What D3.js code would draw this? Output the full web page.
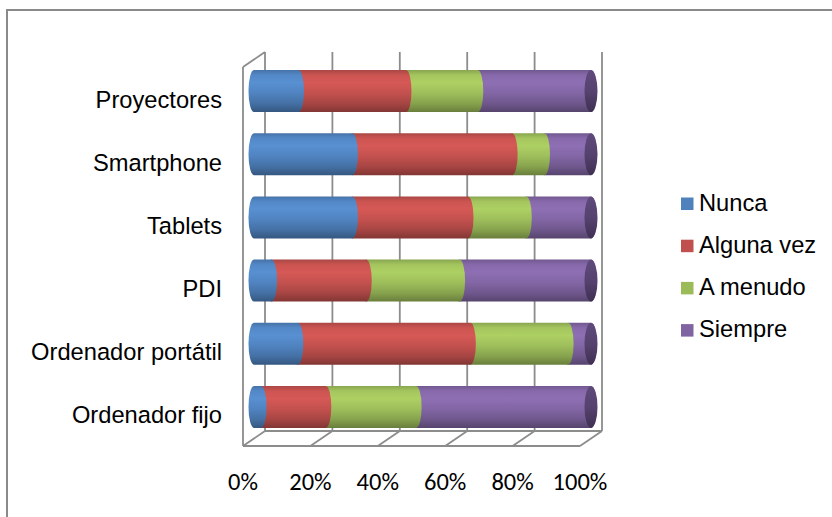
<!DOCTYPE html>
<html>
<head>
<meta charset="utf-8">
<script src="https://cdn.jsdelivr.net/npm/d3@7"></script>
<style>
  body { margin: 0; background: #fff; }
  svg { display: block; }
</style>
</head>
<body>
<script>
var categories = ['Proyectores', 'Smartphone', 'Tablets', 'PDI', 'Ordenador portátil', 'Ordenador fijo'];
var seriesNames = ['Nunca', 'Alguna vez', 'A menudo', 'Siempre'];
var nunca = [13.2, 29.2, 29.2, 5.2, 13.0, 2.1];
var algunaVez = [31.9, 47.4, 34.3, 28.1, 51.2, 19.2];
var aMenudo = [21.3, 9.6, 17.3, 27.7, 29.0, 26.8];
var siempre = [33.6, 13.8, 19.2, 39.0, 6.8, 51.9];
var tickLabels = ['0%', '20%', '40%', '60%', '80%', '100%'];

var colors = ['#4F81BD', '#C0504D', '#9BBB59', '#8064A2'];

var width = 832,
    height = 517;

var svg = d3.select('body').append('svg')
    .attr('width', width)
    .attr('height', height);

// outer chart border (cut by the picture edge)
svg.append('rect')
    .attr('x', 7).attr('y', 10)
    .attr('width', 900).attr('height', 600)
    .attr('fill', 'none')
    .attr('stroke', '#8a8a8a')
    .attr('stroke-width', 2);

// 3d box: front plane, back plane offset by depth
var depthX = 22, depthY = -15;
var xFront = d3.scaleLinear().domain([0, 1]).range([243, 580]);
var xBack = function (v) { return xFront(v) + depthX; };
var xMid = function (v) { return xFront(v) + depthX / 2; };

var yBand = d3.scaleBand().domain(categories).range([67, 446]);
var floorY = 446;

var grid = svg.append('g')
    .attr('stroke', '#8c8c8c')
    .attr('stroke-width', 1.8)
    .attr('fill', 'none');

var ticks = d3.range(0, 1.0001, 0.2);

// back wall gridlines
grid.selectAll('.bg').data(ticks).enter().append('line')
    .attr('x1', xBack).attr('x2', xBack)
    .attr('y1', 67 + depthY).attr('y2', floorY + depthY);

// floor
grid.append('line')
    .attr('x1', xFront(0)).attr('x2', xFront(1))
    .attr('y1', floorY).attr('y2', floorY);
grid.append('line')
    .attr('x1', xBack(0)).attr('x2', xBack(1))
    .attr('y1', floorY + depthY).attr('y2', floorY + depthY);
grid.selectAll('.fl').data(ticks).enter().append('line')
    .attr('x1', xFront).attr('x2', xBack)
    .attr('y1', floorY).attr('y2', floorY + depthY);

// left wall
grid.append('line')
    .attr('x1', xFront(0)).attr('x2', xFront(0))
    .attr('y1', 67).attr('y2', floorY);
grid.append('line')
    .attr('x1', xFront(0)).attr('x2', xBack(0))
    .attr('y1', 67).attr('y2', 67 + depthY);

// gradients
var defs = svg.append('defs');
function addGradient(id, base) {
    var c = d3.color(base);
    var g = defs.append('linearGradient').attr('id', id)
        .attr('x1', 0).attr('y1', 0).attr('x2', 0).attr('y2', 1);
    var stops = [
        [0, c.darker(0.35)],
        [0.12, c.brighter(0.15)],
        [0.3, c.brighter(0.3)],
        [0.55, c.brighter(0.05)],
        [0.8, c.darker(0.4)],
        [1, c.darker(1.1)]
    ];
    stops.forEach(function (s) {
        g.append('stop').attr('offset', s[0]).attr('stop-color', s[1].formatHex());
    });
}
colors.forEach(function (c, i) { addGradient('grad' + i, c); });
var capGrad = defs.append('linearGradient').attr('id', 'capGrad')
    .attr('x1', 0).attr('y1', 0).attr('x2', 0).attr('y2', 1);
capGrad.append('stop').attr('offset', 0).attr('stop-color', '#5f4a7c');
capGrad.append('stop').attr('offset', 0.5).attr('stop-color', '#56426f');
capGrad.append('stop').attr('offset', 1).attr('stop-color', '#3f3052');

// stacked data
var table = categories.map(function (cat, i) {
    var vals = [nunca[i], algunaVez[i], aMenudo[i], siempre[i]];
    var total = d3.sum(vals);
    var acc = 0;
    return {
        cat: cat,
        segs: vals.map(function (v, k) {
            var s = { k: k, x0: acc / total, x1: (acc + v) / total };
            acc += v;
            return s;
        })
    };
});

var ry = 21, rx = 5.5;

function segPath(s, yc) {
    var a = xMid(s.x0), b = xMid(s.x1);
    return 'M' + a + ',' + (yc - ry) +
        'L' + b + ',' + (yc - ry) +
        'A' + rx + ',' + ry + ' 0 0 1 ' + b + ',' + (yc + ry) +
        'L' + a + ',' + (yc + ry) +
        'A' + rx + ',' + ry + ' 0 0 1 ' + a + ',' + (yc - ry) + 'Z';
}

var bars = svg.selectAll('.bar').data(table).enter().append('g')
    .attr('class', 'bar');

bars.each(function (d) {
    var g = d3.select(this);
    var yc = yBand(d.cat) + yBand.bandwidth() / 2 + depthY / 2;
    d.segs.slice().reverse().forEach(function (s) {
        g.append('path')
            .attr('d', segPath(s, yc))
            .attr('fill', 'url(#grad' + s.k + ')');
    });
    g.append('ellipse')
        .attr('cx', xMid(1)).attr('cy', yc)
        .attr('rx', 6.5).attr('ry', ry)
        .attr('fill', 'url(#capGrad)');
});

// category labels
svg.selectAll('.cat').data(categories).enter().append('text')
    .attr('x', 222)
    .attr('y', function (d) { return yBand(d) + yBand.bandwidth() / 2 + 9; })
    .attr('text-anchor', 'end')
    .attr('font-family', 'Liberation Sans, Arial, sans-serif')
    .attr('font-size', 23.7)
    .attr('fill', '#000')
    .text(function (d) { return d; });

// x tick labels
svg.selectAll('.tick').data(ticks).enter().append('text')
    .attr('x', xFront)
    .attr('y', 490)
    .attr('text-anchor', 'middle')
    .attr('font-family', 'Carlito, Lato, sans-serif')
    .attr('font-size', 24.5)
    .attr('fill', '#000')
    .text(function (d, i) { return tickLabels[i]; });

// legend
var legend = svg.selectAll('.leg').data(seriesNames).enter().append('g')
    .attr('transform', function (d, i) { return 'translate(681,' + (197.5 + i * 42.2) + ')'; });
legend.append('rect')
    .attr('width', 12.5).attr('height', 12.5)
    .attr('fill', function (d, i) { return colors[i]; });
legend.append('text')
    .attr('x', 18).attr('y', 13)
    .attr('font-family', 'Liberation Sans, Arial, sans-serif')
    .attr('font-size', 23.7)
    .attr('fill', '#000')
    .text(function (d) { return d; });
</script>
</body>
</html>
